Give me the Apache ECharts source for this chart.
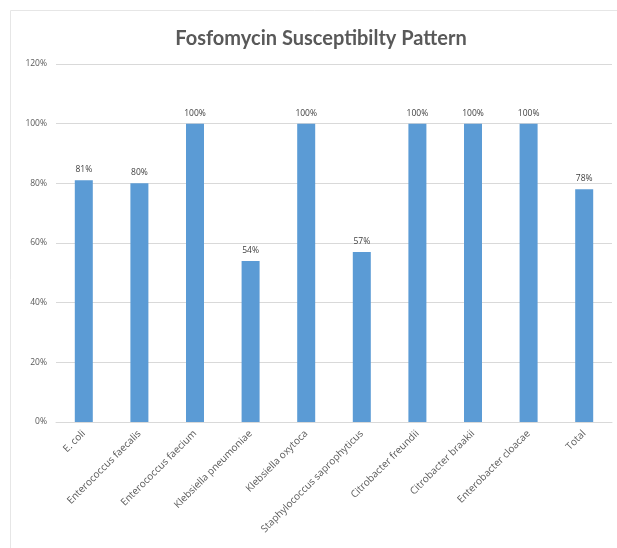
<!DOCTYPE html>
<html>
<head>
<meta charset="utf-8">
<script src="https://cdn.jsdelivr.net/npm/echarts@6/dist/echarts.min.js"></script>
<style>
  html, body { margin: 0; padding: 0; background: #fff; }
  #myChart { width: 617px; height: 548px; }
</style>
</head>
<body>
<div id="myChart"></div>
<script>
// organisms on the x axis
var categories = [
  "E. coli",
  "Enterococcus faecalis",
  "Enterococcus faecium",
  "Klebsiella pneumoniae",
  "Klebsiella oxytoca",
  "Staphylococcus saprophyticus",
  "Citrobacter freundii",
  "Citrobacter braakii",
  "Enterobacter cloacae",
  "Total"
];
// susceptibility in %
var susceptible = [81, 80, 100, 54, 100, 57, 100, 100, 100, 78];
var yTicks = [0, 20, 40, 60, 80, 100, 120];

var myChart = echarts.init(document.getElementById("myChart"));
myChart.setOption({
  animation: false,
  title: {
    text: "Fosfomycin Susceptibilty Pattern",
    left: 316,
    top: 24,
    textAlign: "center",
    textStyle: {
      fontFamily: "Lato",
      fontWeight: "bold",
      fontSize: 20,
      color: "#595959"
    }
  },
  graphic: [{
    type: "rect",
    shape: { x: 10.5, y: 10.5, width: 640, height: 560 },
    style: { fill: "none", stroke: "#e6e6e6", lineWidth: 1 },
    silent: true
  }],
  grid: {
    left: 56,
    right: 5,
    top: 64,
    bottom: 126,
    containLabel: false
  },
  xAxis: {
    type: "category",
    data: categories,
    axisTick: { show: false },
    axisLine: { lineStyle: { color: "#d9d9d9" } },
    axisLabel: {
      rotate: 45,
      interval: 0,
      margin: 10,
      fontFamily: "Open Sans",
      fontSize: 10,
      color: "#595959"
    }
  },
  yAxis: {
    type: "value",
    min: yTicks[0],
    max: yTicks[yTicks.length - 1],
    interval: 20,
    axisLine: { show: false },
    axisTick: { show: false },
    splitLine: { lineStyle: { color: "#d9d9d9" } },
    axisLabel: {
      formatter: "{value}%",
      margin: 9,
      fontFamily: "Open Sans",
      fontSize: 8.5,
      color: "#595959"
    }
  },
  series: [{
    type: "bar",
    data: susceptible,
    barWidth: 18,
    itemStyle: { color: "#5b9bd5" },
    label: {
      show: true,
      position: "top",
      distance: 6,
      formatter: "{c}%",
      fontFamily: "Open Sans",
      fontSize: 8.5,
      color: "#404040"
    }
  }]
});
</script>
</body>
</html>
